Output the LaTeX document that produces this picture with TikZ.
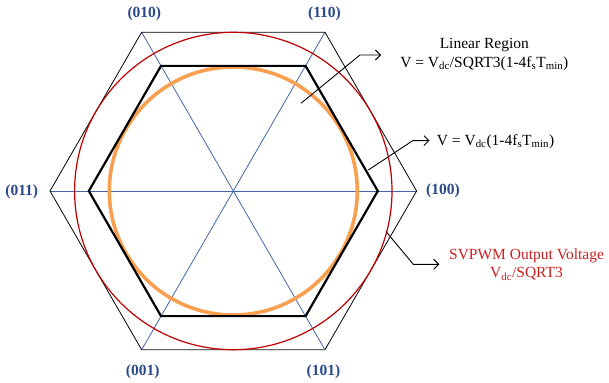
\documentclass[tikz,border=0pt]{standalone}
\usepackage{fontspec}
\setmainfont{Liberation Serif}
\usetikzlibrary{arrows.meta}
\definecolor{lblue}{RGB}{66,102,165}
\definecolor{dblue}{RGB}{42,74,138}
\definecolor{cred}{RGB}{192,0,0}
\definecolor{tred}{RGB}{204,32,32}
\definecolor{corange}{RGB}{248,160,80}
\tikzset{
  outerhex/.style={draw=black, line width=0.8pt},
  bottomedge/.style={draw=black!60, line width=1.3pt},
  innerhex/.style={draw=black, line width=2.2pt, line join=miter},
  axisline/.style={draw=lblue, line width=0.8pt},
  redcirc/.style={draw=cred, line width=1.2pt},
  orcirc/.style={draw=corange, line width=3.6pt},
  lbl/.style={font=\fontsize{15.5}{18}\selectfont\bfseries, text=dblue, inner sep=0pt},
  txt/.style={font=\fontsize{15.5}{18.5}\selectfont, inner sep=0pt, align=center},
  arr/.style={draw=black, line width=0.9pt, -{Straight Barb[length=5pt,width=10pt]}}
}
\begin{document}
\begin{tikzpicture}[x=1pt,y=-1pt]
\path[use as bounding box, fill=white] (0,0) rectangle (609,382);
\coordinate (O) at (233.3,191);
\begin{scope}[shift={(O)}]
  \foreach \a [count=\i] in {0,60,120,180,240,300}{
    \coordinate (V\i) at (\a:183.3);
    \coordinate (W\i) at (\a:144.5);
  }
  % axis lines
  \draw[axisline] (V1) -- (V4);
  \draw[axisline] (V2) -- (V5);
  \draw[axisline] (V3) -- (V6);
  % outer hexagon
  \draw[outerhex] (V1) -- (V2) -- (V3) -- (V4) -- (V5) -- (V6) -- cycle;
  \draw[bottomedge] (V2) -- (V3);
  % red circle
  \draw[redcirc] (0,0) circle[radius=158.7];
  % orange circle
  \draw[orcirc] (0,0) circle[radius=124];
  % inner hexagon
  \draw[innerhex] (W1) -- (W2) -- (W3) -- (W4) -- (W5) -- (W6) -- cycle;
\end{scope}
% vertex labels
\node[lbl] (n010) at (144.3,14) {(010)};
\node[lbl] (n110) at (324.5,14) {(110)};
\node[lbl] (n011) at (21.7,191.5) {(011)};
\node[lbl] (n100) at (443,191) {(100)};
\node[lbl] (n001) at (142.7,371.7) {(001)};
\node[lbl] (n101) at (323.5,371.7) {(101)};
% texts
\node[txt] (lin) at (484.3,54.5) {Linear Region\\V = V\textsubscript{dc}/SQRT3(1-4f\textsubscript{s}T\textsubscript{min})};
\node[txt, anchor=west] (vdc) at (436.7,141.5) {V = V\textsubscript{dc}(1-4f\textsubscript{s}T\textsubscript{min})};
\node[txt, text=tred] (svp) at (526.5,264.5) {SVPWM Output Voltage\\V\textsubscript{dc}/SQRT3};
% connectors
\coordinate (a1s) at (301,103.3);
\coordinate (a1m) at (360,55);
\coordinate (a1e) at (381,55);
\draw[arr] (a1s) -- (a1m) -- (a1e);
\coordinate (a2s) at (368.3,170);
\coordinate (a2m) at (412.7,140.7);
\coordinate (a2e) at (429.5,140.7);
\draw[arr] (a2s) -- (a2m) -- (a2e);
\coordinate (a3s) at (386,231.5);
\coordinate (a3m) at (413.3,264.3);
\coordinate (a3e) at (439.3,264.3);
\draw[arr] (a3s) -- (a3m) -- (a3e);
\end{tikzpicture}
\end{document}
